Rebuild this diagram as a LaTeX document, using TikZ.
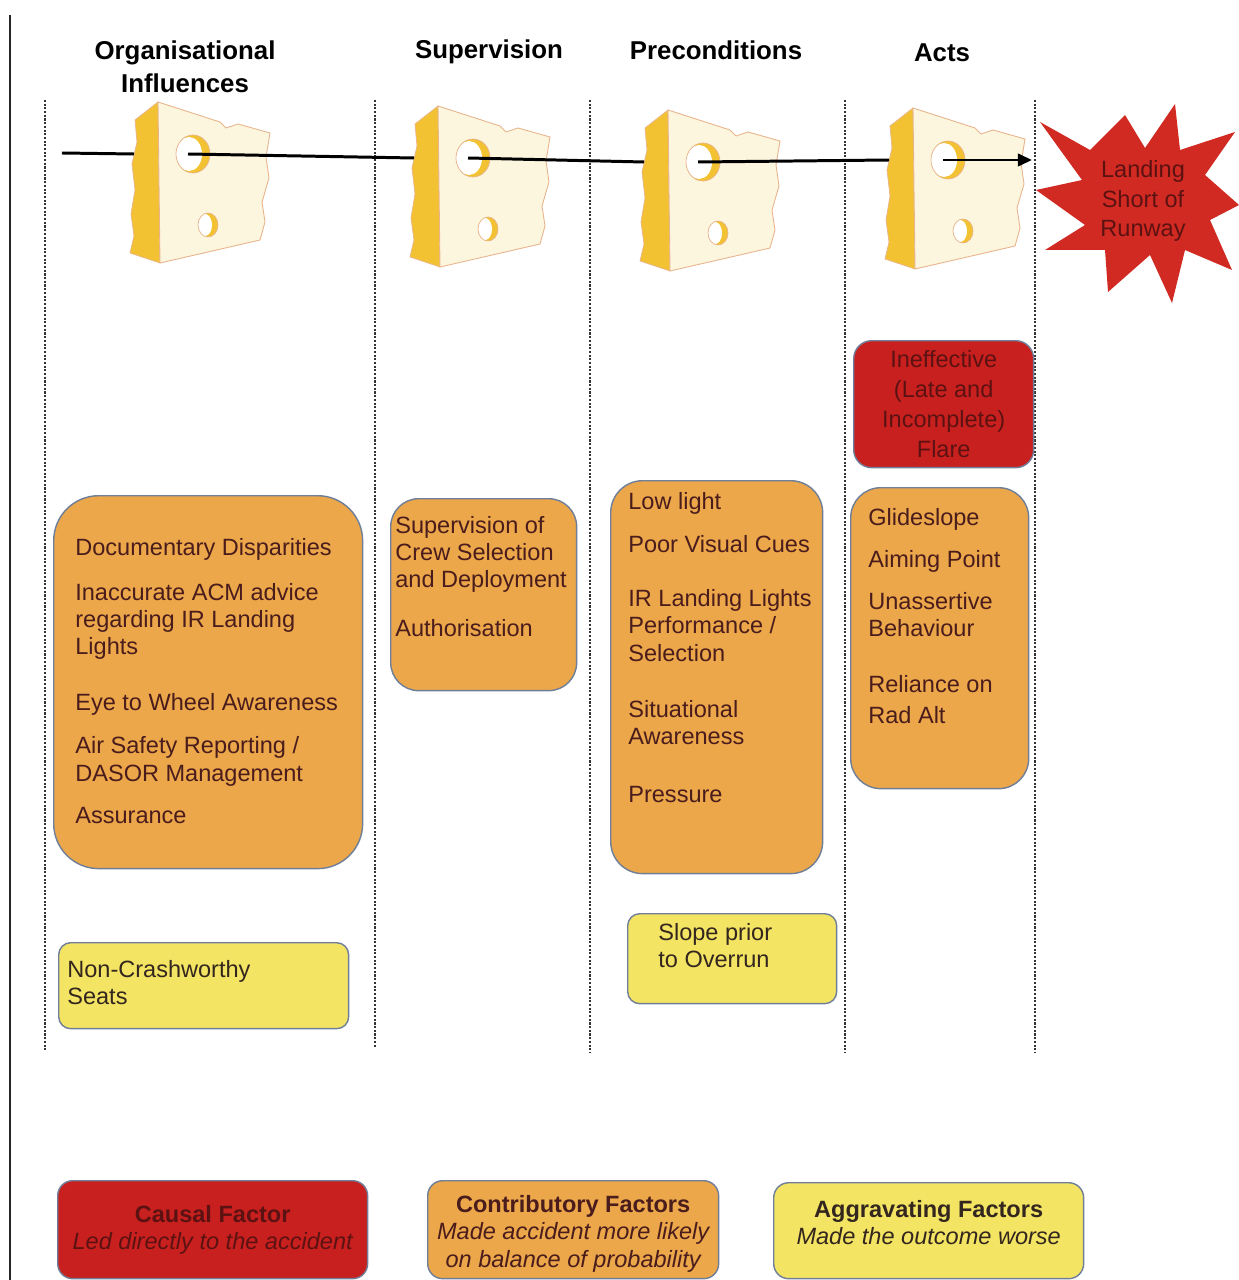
\documentclass[tikz,border=0pt]{standalone}
\usepackage{fontspec}
\setmainfont{Liberation Sans}
\usetikzlibrary{arrows.meta}

\definecolor{cheeseface}{HTML}{FDF6DE}
\definecolor{cheeserind}{HTML}{F2C232}
\definecolor{cheeseedge}{HTML}{E8B48C}
\definecolor{causalred}{HTML}{C8201E}
\definecolor{burstred}{HTML}{D02A22}
\definecolor{contriborange}{HTML}{EBA74A}
\definecolor{aggryellow}{HTML}{F3E463}
\definecolor{boxedge}{HTML}{6F7F99}
\definecolor{factortext}{HTML}{4A1C1C}
\definecolor{causaltext}{HTML}{5C1212}
\definecolor{aggrtext}{HTML}{33261E}

\newcommand\boxfont{\fontsize{13.4}{15.5}\selectfont}
\newcommand\flarefont{\fontsize{13.4}{17}\selectfont}

\begin{document}
\begin{tikzpicture} [
      x=0.02cm, y=-0.02cm,
      header/.style={font=\bfseries\fontsize{14.7}{18.8}\selectfont, align=center, inner sep=0},
      guide/.style={dash pattern=on 1.2pt off 0.9pt, line width=1pt, black!80},
      chain/.style={line width=1.7pt, black},
      contrib/.style={draw=boxedge, line width=0.8pt, fill=contriborange, inner sep=0, anchor=north west},
      aggr/.style={draw=boxedge, line width=0.8pt, fill=aggryellow, inner sep=0, anchor=north west, rounded corners=0.24cm},
      causal/.style={draw=boxedge, line width=0.8pt, fill=causalred, inner sep=0, anchor=north west},
      factor/.style={font=\boxfont, text=factortext, align=left, inner sep=0, anchor=north west},
      keytext/.style={font=\boxfont, align=center, inner sep=0},
      cheese/.pic={
        % rind
        \filldraw[fill=cheeserind, draw=cheeseedge, line width=0.4pt] (0,0) -- (-23,18) -- (-21,40) -- (-26,62) -- (-23,88)
          -- (-27,112) -- (-24,134) -- (-28,151) -- (2,161) -- cycle;
        % face
        \filldraw[fill=cheeseface, draw=cheeseedge, line width=0.5pt] (0,0) -- (62,20) -- (68,26) -- (80,22) -- (112,31)
          -- (108,55) -- (111,76) -- (104,100) -- (107,120) -- (102,138) -- (2,161) -- cycle;
        % holes
        \fill[cheeserind] (35,52) ellipse (17 and 19);
        \fill[white] (31,52) ellipse (13 and 17);
        \draw[cheeseedge, line width=0.4pt] (35,52) ellipse (17 and 19);
        \fill[cheeserind] (50,123) ellipse (10 and 12);
        \fill[white] (47,123) ellipse (7 and 11);
        \draw[cheeseedge, line width=0.4pt] (50,123) ellipse (10 and 12);
        \coordinate (-hole) at (30,52);
        \coordinate (-rind) at (-24,52);
      }
   ]
    \useasboundingbox[fill=white] (0,0) rectangle (1239,1280);

    \draw[black!85, line width=0.6pt] (10,15) -- (10,1280);

    % columns
    \draw[guide] (45,100) -- (45,1050);
    \draw[guide] (375,100) -- (375,1048);
    \draw[guide] (590,100) -- (590,1052);
    \draw[guide] (845,100) -- (845,1052);
    \draw[guide] (1035,100) -- (1035,1052);

    \node[header] (hdOrg) at (185,67) {Organisational\\Influences};
    \node[header] (hdSup) at (489,52) {Supervision};
    \node[header] (hdPre) at (716,50) {Preconditions};
    \node[header] (hdActs) at (942,53) {Acts};

    % swiss cheese slices
    \pic (c1) at (158,102) {cheese};
    \pic (c2) at (438,106) {cheese};
    \pic (c3) at (668,110) {cheese};
    \pic (c4) at (913,108) {cheese};

    % the accident
    \fill[burstred] (1040,122) -- (1090,150) -- (1125,115) -- (1145,148) -- (1175,104) -- (1180,150)
      -- (1235,132) -- (1205,175) -- (1239,205) -- (1210,220) -- (1232,270) -- (1185,250)
      -- (1172,303) -- (1150,255) -- (1108,292) -- (1105,250) -- (1045,250) -- (1085,225)
      -- (1036,190) -- (1082,180) -- cycle;
    \node[keytext, font=\flarefont, text=causaltext] (ndBurst) at (1143,201) {Landing\\Short of\\Runway};

    % trajectory through the holes
    \coordinate (chainStart) at (62,153);
    \coordinate (impact) at (1032,160);
    \draw[chain] (chainStart) -- (c1-rind);
    \draw[chain] (c1-hole) -- (c2-rind);
    \draw[chain] (c2-hole) -- (c3-rind);
    \draw[chain] (c3-hole) -- (c4-rind);
    \draw[chain, -{Triangle[length=8pt, width=7pt]}] (c4-hole) -- (impact);

    % causal factor
    \node[causal, minimum width=3.6cm, minimum height=2.54cm, rounded corners=0.36cm] (ndFlare) at (853,340) {};
    \node[keytext, font=\flarefont, text=causaltext] (flareText) at (ndFlare.center) {Ineffective\\(Late and\\Incomplete)\\Flare};

    % contributory factors
    \node[contrib, minimum width=6.18cm, minimum height=7.46cm, rounded corners=0.9cm] (orgBox) at (53,495) {};
    \node[factor] (orgText) at ([shift={(22,43)}]orgBox.north west) {
      Documentary Disparities\\[10pt]
      Inaccurate ACM advice\\
      regarding IR Landing\\
      Lights\\[16.4pt]
      Eye to Wheel Awareness\\[9pt]
      Air Safety Reporting /\\
      DASOR Management\\[8.5pt]
      Assurance
    };
    \node[contrib, minimum width=3.72cm, minimum height=3.84cm, rounded corners=0.56cm] (supBox) at (390,498) {};
    \node[factor] (supText) at ([shift={(5,18)}]supBox.north west) {
      Supervision of\\
      Crew Selection\\
      and Deployment\\[12.4pt]
      Authorisation
    };
    \node[contrib, minimum width=4.24cm, minimum height=7.86cm, rounded corners=0.64cm] (preBox) at (610,480) {};
    \node[factor] (preText) at ([shift={(18,12)}]preBox.north west) {
      Low light\\[9pt]
      Poor Visual Cues\\[15.3pt]
      IR Landing Lights\\
      Performance /\\
      Selection\\[16.4pt]
      Situational\\
      Awareness\\[17.5pt]
      Pressure
    };
    \node[contrib, minimum width=3.56cm, minimum height=6.02cm, rounded corners=0.6cm] (actBox) at (850,487) {};
    \node[factor] (actText) at ([shift={(18,21)}]actBox.north west) {
      Glideslope\\[8.4pt]
      Aiming Point\\[8.4pt]
      Unassertive\\
      Behaviour\\[16.4pt]
      Reliance on\\[2pt]
      Rad Alt
    };

    % aggravating factors
    \node[aggr, minimum width=5.8cm, minimum height=1.72cm] (seatBox) at (58,942) {};
    \node[factor, text=aggrtext] (seatText) at ([shift={(9,18)}]seatBox.north west) {Non-Crashworthy\\Seats};
    \node[aggr, minimum width=4.18cm, minimum height=1.8cm] (slopeBox) at (627,913) {};
    \node[factor, text=aggrtext] (slopeText) at ([shift={(31,10)}]slopeBox.north west) {Slope prior\\to Overrun};

    % key
    \node[causal, minimum width=6.2cm, minimum height=1.96cm, rounded corners=0.3cm] (keyCausal) at (57,1180) {};
    \node[keytext, text=causaltext] (keyCausalText) at (keyCausal.center)
      {{\bfseries Causal Factor}\\\itshape Led directly to the accident};
    \node[contrib, minimum width=5.82cm, minimum height=1.96cm, rounded corners=0.3cm] (keyContrib) at (427,1180) {};
    \node[keytext, text=factortext] (keyContribText) at ([shift={(0,4)}]keyContrib.center)
      {{\bfseries Contributory Factors}\\\itshape Made accident more likely\\\itshape on balance of probability};
    \node[aggr, minimum width=6.2cm, minimum height=1.92cm, rounded corners=0.3cm] (keyAggr) at (773,1182) {};
    \node[keytext, text=aggrtext] (keyAggrText) at ([shift={(0,-8)}]keyAggr.center)
      {{\bfseries Aggravating Factors}\\\itshape Made the outcome worse};

  \end{tikzpicture}
\end{document}
